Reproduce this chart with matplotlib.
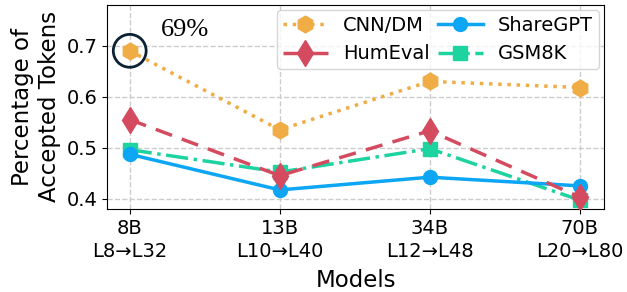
import matplotlib
matplotlib.use("Agg")
import matplotlib.pyplot as plt

models = ["8B\nL8→L32", "13B\nL10→L40", "34B\nL12→L48", "70B\nL20→L80"]
cnn_dm = [0.690, 0.535, 0.630, 0.618]
humeval = [0.555, 0.445, 0.533, 0.403]
sharegpt = [0.487, 0.417, 0.442, 0.425]
gsm8k = [0.496, 0.452, 0.498, 0.397]

x = list(range(len(models)))

fig, ax = plt.subplots(figsize=(6.27, 2.92), dpi=100)

ax.plot(x, cnn_dm, linestyle=":", color="#F0AC45", marker="h", markersize=12,
        linewidth=2.5, label="CNN/DM", zorder=6)
ax.plot(x, humeval, linestyle=(0, (5, 3)), color="#D44B60", marker="d", markersize=13,
        linewidth=2.5, label="HumEval", zorder=5)
ax.plot(x, sharegpt, linestyle="-", color="#0CA6F4", marker="o", markersize=10,
        linewidth=2.5, label="ShareGPT", zorder=4)
ax.plot(x, gsm8k, linestyle="-.", color="#1DD3A0", marker="s", markersize=10,
        linewidth=2.5, label="GSM8K", zorder=3)

# highlight the first point
ax.scatter([x[0]], [cnn_dm[0]], s=560, facecolors="none", edgecolors="#0B2233",
           linewidths=2, zorder=7)
ax.text(0.37, 0.731, "69%", fontsize=19, family="Liberation Serif",
        ha="center", va="center")

ax.set_xlim(-0.15, 3.16)
ax.set_ylim(0.38, 0.78)
ax.set_yticks([0.4, 0.5, 0.6, 0.7])
ax.set_xticks(x)
ax.set_xticklabels(models, linespacing=1.3)
ax.tick_params(labelsize=14)
ax.grid(True, linestyle="--", color="#cccccc", linewidth=1)
ax.set_axisbelow(True)

ax.set_xlabel("Models", fontsize=16.5, labelpad=6)
ax.set_ylabel("Percentage of\nAccepted Tokens", fontsize=16.5, labelpad=4)

ax.legend(ncol=2, fontsize=14, loc="upper right", handlelength=2.3,
          columnspacing=0.4, handletextpad=0.8, borderpad=0.3, labelspacing=0.5,
          borderaxespad=0.25)

plt.subplots_adjust(left=0.171, right=0.963, top=0.983, bottom=0.285)
fig.savefig("out.png", dpi=100)
